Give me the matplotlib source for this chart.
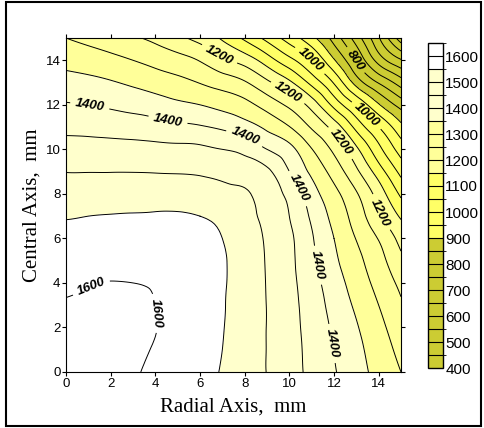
import numpy as np
import matplotlib
matplotlib.use('Agg')
import matplotlib.pyplot as plt
import matplotlib.tri as mtri
from matplotlib.colors import ListedColormap, BoundaryNorm
from matplotlib.patches import Rectangle

# grid nodes (mm)
radial = np.arange(0, 16)
central = np.arange(0, 16)

# temperature at the nodes: one row per central-axis position (0..15 mm),
# one column per radial position (0..15 mm)
temp = np.array([
    [1612, 1612, 1610, 1604, 1591, 1577, 1562, 1547, 1523, 1499, 1469, 1438, 1404, 1369, 1334, 1300],
    [1612, 1617, 1614, 1607, 1597, 1581, 1566, 1550, 1524, 1499, 1468, 1436, 1399, 1363, 1325, 1287],
    [1610, 1614, 1620, 1610, 1601, 1585, 1569, 1552, 1526, 1499, 1467, 1432, 1392, 1354, 1314, 1272],
    [1604, 1607, 1610, 1610, 1600, 1585, 1569, 1553, 1528, 1499, 1466, 1427, 1383, 1342, 1300, 1256],
    [1591, 1597, 1601, 1600, 1595, 1581, 1568, 1554, 1529, 1498, 1464, 1420, 1373, 1328, 1284, 1238],
    [1577, 1581, 1585, 1585, 1581, 1578, 1566, 1554, 1528, 1497, 1462, 1412, 1360, 1314, 1268, 1212],
    [1562, 1566, 1569, 1569, 1568, 1566, 1561, 1550, 1524, 1495, 1460, 1405, 1350, 1298, 1247, 1182],
    [1547, 1550, 1552, 1553, 1554, 1554, 1550, 1539, 1515, 1488, 1450, 1392, 1335, 1278, 1210, 1143],
    [1523, 1524, 1526, 1528, 1529, 1528, 1524, 1515, 1506, 1478, 1436, 1372, 1315, 1255, 1178, 1090],
    [1499, 1499, 1499, 1499, 1498, 1497, 1495, 1488, 1478, 1460, 1400, 1340, 1280, 1210, 1125, 1035],
    [1469, 1468, 1467, 1466, 1464, 1462, 1460, 1450, 1436, 1400, 1365, 1302, 1240, 1160, 1065, 978],
    [1438, 1436, 1432, 1427, 1420, 1412, 1405, 1392, 1372, 1340, 1302, 1245, 1180, 1085, 1000, 915],
    [1404, 1399, 1392, 1383, 1373, 1360, 1350, 1335, 1315, 1280, 1240, 1180, 1085, 995, 905, 830],
    [1369, 1363, 1354, 1342, 1328, 1314, 1298, 1278, 1255, 1210, 1160, 1085, 995, 880, 796, 725],
    [1334, 1325, 1314, 1300, 1284, 1268, 1247, 1210, 1178, 1125, 1065, 1000, 905, 796, 680, 605],
    [1300, 1287, 1272, 1256, 1238, 1212, 1182, 1143, 1090, 1035, 978, 915, 830, 725, 605, 470],
])

levels = np.arange(400, 1651, 50)
cbar_ticks = np.arange(400, 1601, 100)

# labelled isolines and where their labels sit
label_spots = {
    1600: [(1.15, 3.76), (3.99, 2.63)],
    1400: [(1.07, 11.99), (4.58, 11.39), (8.02, 10.57), (10.41, 8.25), (11.3, 4.8), (11.97, 1.29)],
    1200: [(6.83, 14.2), (9.91, 12.51), (12.36, 10.34), (14.0, 7.13)],
    1000: [(10.93, 14.0), (13.47, 11.54)],
    800: [(12.95, 14.0)],
}

# one colour per 50-degree band, 400 -> 1650
band_colors = (['#CCCC33'] * 10 + ['#FFFF66'] * 5 + ['#FFFF99'] * 4
               + ['#FFFFCC'] * 4 + ['#FFFFFF'] * 2)
cmap = ListedColormap(band_colors)
norm = BoundaryNorm(levels, cmap.N)

# smooth the node table for drawing
X, Y = np.meshgrid(radial, central)
tri = mtri.Triangulation(X.ravel().astype(float), Y.ravel().astype(float))
interp = mtri.CubicTriInterpolator(tri, temp.ravel().astype(float), kind='min_E')
refiner = mtri.UniformTriRefiner(tri)
tri_f, temp_f = refiner.refine_field(temp.ravel().astype(float), triinterpolator=interp, subdiv=3)

fig = plt.figure(figsize=(4.84, 4.28), dpi=100)
ax = fig.add_axes([66 / 484, 1 - 372 / 428, 335 / 484, 334 / 428])

cs_fill = ax.tricontourf(tri_f, temp_f, levels=levels, cmap=cmap, norm=norm)
plain_levels = [l for l in levels[1:-1] if l not in label_spots]
ax.tricontour(tri_f, temp_f, levels=plain_levels, colors='k', linewidths=0.7)

labels = []
for lev, spots in label_spots.items():
    cs_lev = ax.tricontour(tri_f, temp_f, levels=[lev], colors='k', linewidths=0.7)
    labels += ax.clabel(cs_lev, manual=spots, fmt='%d',
                        fontsize=9.5, inline=True, inline_spacing=3)
for t in labels:
    t.set_fontweight('bold')
    t.set_fontstyle('italic')
    t.set_family('Liberation Sans')

ax.set_xlim(0, 15)
ax.set_ylim(0, 15)
ax.set_xticks(np.arange(0, 15, 2))
ax.set_yticks(np.arange(0, 15, 2))
ax.tick_params(direction='out', length=3, width=0.8, top=True, right=True,
               labelsize=9.5, pad=1)
for lab in ax.get_xticklabels() + ax.get_yticklabels():
    lab.set_family('Liberation Sans')
for s in ax.spines.values():
    s.set_linewidth(0.8)

ax.set_xlabel('Radial Axis,  mm', family='Liberation Serif', fontsize=15, labelpad=6)
ax.set_ylabel('Central Axis,  mm', family='Liberation Serif', fontsize=15, labelpad=3)

# colour bar
cax = fig.add_axes([428 / 484, 1 - 368 / 428, 14.5 / 484, 325 / 428])
cb = fig.colorbar(cs_fill, cax=cax, ticks=cbar_ticks, drawedges=True)
cb.outline.set_linewidth(1.0)
cb.dividers.set_color('k')
cb.dividers.set_linewidth(0.8)
cax.tick_params(length=0, pad=2, labelsize=11)
for lab in cax.get_yticklabels():
    lab.set_family(['Liberation Sans Narrow', 'Liberation Sans'])

# outer frame
fig.patches.append(Rectangle((6 / 484, 2 / 428), 475 / 484, 424 / 428,
                             transform=fig.transFigure, fill=False, lw=1.5, ec='k'))

fig.savefig('out.png', dpi=100)
